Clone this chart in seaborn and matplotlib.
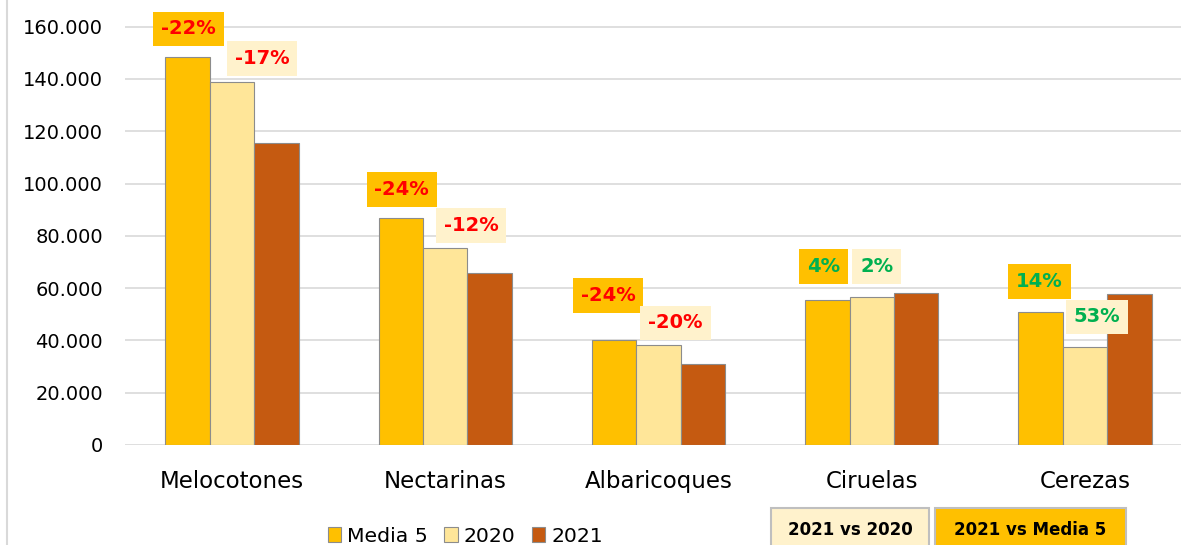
import pandas as pd
import matplotlib.pyplot as plt
import seaborn as sns
from matplotlib.patches import Patch, Rectangle
from matplotlib.lines import Line2D
from matplotlib.ticker import FuncFormatter

# Data
frutas = ["Melocotones", "Nectarinas", "Albaricoques", "Ciruelas", "Cerezas"]
series = ["Media 5", "2020", "2021"]
media5 = [148400, 86700, 40300, 55600, 50700]
v2020 = [139000, 75200, 38300, 56700, 37500]
v2021 = [115400, 65900, 30800, 58000, 57600]
pct_vs_media5 = [-22, -24, -24, 4, 14]
pct_vs_2020 = [-17, -12, -20, 2, 53]

colors = ["#FFC000", "#FFE699", "#C55A11"]

df = pd.DataFrame({
    "fruta": frutas * 3,
    "serie": [s for s in series for _ in frutas],
    "valor": media5 + v2020 + v2021,
})

sns.set_style("white")
plt.rcParams["font.family"] = ["DejaVu Sans"]
plt.rcParams["text.color"] = "black"

fig = plt.figure(figsize=(11.81, 5.45), dpi=100)
ax = fig.add_axes([125.4 / 1181, 100 / 545, 1066.2 / 1181, 445 / 545])

sns.barplot(data=df, x="fruta", y="valor", hue="serie", palette=colors, saturation=1,
            width=0.625, edgecolor="#8C8C8C", linewidth=0.8, legend=False, ax=ax)

ax.set_xlim(-0.5, 4.5)
ax.set_ylim(0, 170200)
ax.set_yticks(range(0, 160001, 20000))
ax.yaxis.set_major_formatter(FuncFormatter(lambda v, p: f"{int(v):,}".replace(",", ".")))
ax.yaxis.grid(True, color="#D9D9D9", lw=1.2)
ax.set_axisbelow(True)
for s in ax.spines.values():
    s.set_visible(False)
ax.tick_params(axis="y", length=0, pad=16, labelsize=14, labelcolor="black")
ax.tick_params(axis="x", length=0, pad=18, labelsize=16.5, labelcolor="black")
ax.set_xlabel("")
ax.set_ylabel("")

# label placement (pixel offsets from bar top centre)
m5_dx = [1, 1, -6, -4, -1]
m5_dy = [28, 29, 44, 33, 31]
y20_dx = [30, 26, 17, 5, 12]
y20_dy = [23, 23, 22, 30, 30]


def pct_label(bar, pct, dx, dy, face):
    x = bar.get_x() + bar.get_width() / 2
    col = "#FF0000" if pct < 0 else "#00B050"
    ax.annotate(f"{pct}%", xy=(x, bar.get_height()), xytext=(dx, dy),
                textcoords="offset pixels", ha="center", va="center",
                fontsize=14, fontweight="bold", color=col,
                bbox=dict(boxstyle="square,pad=0.4", fc=face, ec="none"))


for i, bar in enumerate(ax.containers[0]):
    pct_label(bar, pct_vs_media5[i], m5_dx[i], m5_dy[i], "#FFC000")
for i, bar in enumerate(ax.containers[1]):
    pct_label(bar, pct_vs_2020[i], y20_dx[i], y20_dy[i], "#FFF2CC")

handles = [Patch(facecolor=c, edgecolor="#8C8C8C", lw=0.8) for c in colors]
fig.legend(handles, series, loc="center", bbox_to_anchor=(465.5 / 1181, 9 / 545),
           ncol=3, frameon=False, fontsize=14.7, handlelength=0.65, handleheight=0.75,
           handletextpad=0.3, columnspacing=0.8)

# key boxes at bottom right
for x0, x1, face, txt in [(771, 929, "#FFF2CC", "2021 vs 2020"),
                          (935, 1126, "#FFC000", "2021 vs Media 5")]:
    fig.patches.append(Rectangle((x0 / 1181, -8 / 545), (x1 - x0) / 1181, 45.5 / 545,
                                 transform=fig.transFigure, fc=face, ec="#BFBFBF", lw=1.5))
    fig.text((x0 + x1) / 2 / 1181, 15 / 545, txt, ha="center", va="center",
             fontsize=12, fontweight="bold", color="black")

fig.lines.append(Line2D([7 / 1181, 7 / 1181], [0, 1], transform=fig.transFigure,
                        color="#D9D9D9", lw=1.5))

fig.savefig("out.png", dpi=100)
